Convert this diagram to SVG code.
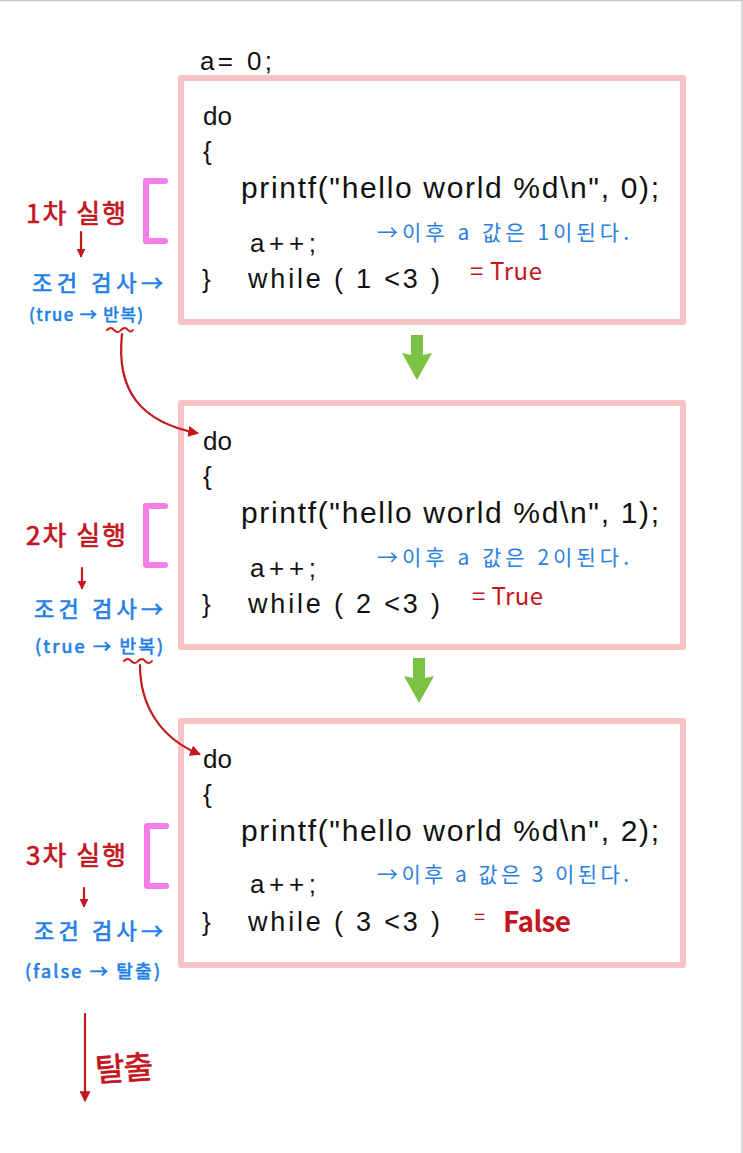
<svg xmlns="http://www.w3.org/2000/svg" width="743" height="1153" viewBox="0 0 743 1153">
<style>
.box{fill:none;stroke:#f9c3c6;stroke-width:6;stroke-linejoin:round}
.code{font-family:"Liberation Sans","Noto Sans CJK KR",sans-serif;fill:#111}
.note{font-family:"Noto Sans CJK KR",sans-serif;fill:#2a7fe0;font-size:21px}
.red{font-family:"Noto Sans CJK KR",sans-serif;fill:#c4161c}
.blue{font-family:"Noto Sans CJK KR",sans-serif;fill:#1f7fe6}
.lab{stroke-width:0.7px;stroke-linejoin:round}
.red.lab{stroke:#c4161c}
.blue.lab{stroke:#1f7fe6}
.brk{fill:none;stroke:#f47de8;stroke-width:6;stroke-linecap:round;stroke-linejoin:round}
.rl{fill:none;stroke:#c4161c;stroke-width:2.2;stroke-linecap:round}
.sq{fill:none;stroke:#d11a1a;stroke-width:2;stroke-linecap:round}
.green{fill:#7cc242}
</style>
<defs>
<marker id="ah" viewBox="0 0 10 10" refX="8" refY="5" markerWidth="5" markerHeight="5" orient="auto">
<path d="M0,0 L10,5 L0,10 z" fill="#c4161c"/>
</marker>
<marker id="ahs" viewBox="0 0 10 10" refX="8" refY="5" markerWidth="4" markerHeight="4" orient="auto">
<path d="M0,0 L10,5 L0,10 z" fill="#c4161c"/>
</marker>
<path id="garrow" d="M-6,0 L6,0 L6,20 L15,18 L0,45 L-15,18 L-6,20 z"/>
</defs>
<rect x="0" y="0" width="743" height="1153" fill="#ffffff"/>
<line x1="0" y1="0.5" x2="743" y2="0.5" stroke="#c8c8c8" stroke-width="1.5"/>
<line x1="742" y1="0" x2="742" y2="1153" stroke="#d0d0d0" stroke-width="1.5"/>

<text class="code" x="200" y="70" font-size="26" textLength="72">a= 0;</text>

<g id="box1">
<rect class="box" x="181" y="78" width="502" height="244"/>
<text class="code" x="203" y="125" font-size="26" textLength="29">do</text>
<text class="code" x="203" y="160" font-size="26">{</text>
<text class="code" x="241" y="198" font-size="30" textLength="418">printf("hello world %d\n", 0);</text>
<text class="code" x="250" y="252" font-size="26" textLength="66">a++;</text>
<text class="note" x="377" y="240" textLength="252">→이후 a 값은 1이된다.</text>
<text class="code" x="202" y="288" font-size="26">}</text>
<text class="code" x="248" y="288" font-size="27" textLength="192">while  ( 1 &lt;3 )</text>
<text class="red" x="470" y="280" font-size="24" textLength="72">= True</text>
</g>

<g id="label1">
<text class="red lab" x="26" y="223" font-size="26" textLength="100">1차 실행</text>
<path class="brk" d="M165,181 H146 V241 H165"/>
<line class="rl" x1="81" y1="232" x2="81" y2="256" marker-end="url(#ahs)"/>
<text class="blue lab" x="32" y="291" font-size="22" textLength="131">조건 검사→</text>
<text class="blue lab" x="29" y="321" font-size="17" textLength="114">(true → 반복)</text>
<path class="sq" d="M107,330 q4,-4 7,0 q4,4 7,0 q4,-4 7,0 q3,3 5,0"/>
</g>

<g id="box2">
<rect class="box" x="181" y="403" width="502" height="244"/>
<text class="code" x="203" y="450" font-size="26" textLength="29">do</text>
<text class="code" x="203" y="485" font-size="26">{</text>
<text class="code" x="241" y="523" font-size="30" textLength="418">printf("hello world %d\n", 1);</text>
<text class="code" x="250" y="577" font-size="26" textLength="66">a++;</text>
<text class="note" x="377" y="565" textLength="252">→이후 a 값은 2이된다.</text>
<text class="code" x="202" y="613" font-size="26">}</text>
<text class="code" x="248" y="613" font-size="27" textLength="192">while  ( 2 &lt;3 )</text>
<text class="red" x="472" y="605" font-size="24" textLength="71">= True</text>
</g>

<g id="label2">
<text class="red lab" x="26" y="545" font-size="26" textLength="100">2차 실행</text>
<path class="brk" d="M165,506 H146 V565 H165"/>
<line class="rl" x1="82" y1="568" x2="82" y2="588" marker-end="url(#ahs)"/>
<text class="blue lab" x="34" y="617" font-size="22" textLength="129">조건 검사→</text>
<text class="blue lab" x="35" y="653" font-size="18" textLength="128">(true → 반복)</text>
<path class="sq" d="M124,661 q4,-4 7,0 q4,4 7,0 q4,-4 7,0 q4,4 7,0"/>
</g>

<g id="box3">
<rect class="box" x="181" y="721" width="502" height="244"/>
<text class="code" x="203" y="768" font-size="26" textLength="29">do</text>
<text class="code" x="203" y="803" font-size="26">{</text>
<text class="code" x="241" y="841" font-size="30" textLength="418">printf("hello world %d\n", 2);</text>
<text class="code" x="250" y="893" font-size="26" textLength="66">a++;</text>
<text class="note" x="377" y="882" textLength="252">→이후 a 값은 3 이된다.</text>
<text class="code" x="202" y="931" font-size="26">}</text>
<text class="code" x="248" y="931" font-size="27" textLength="192">while  ( 3 &lt;3 )</text>
<text class="red" x="474" y="924" font-size="20">=</text>
<text class="red" x="503" y="932" font-size="28" font-weight="bold" textLength="68">False</text>
</g>

<g id="label3">
<text class="red lab" x="26" y="865" font-size="26" textLength="100">3차 실행</text>
<path class="brk" d="M166,826 H147 V886 H166"/>
<line class="rl" x1="84" y1="888" x2="84" y2="906" marker-end="url(#ahs)"/>
<text class="blue lab" x="34" y="939" font-size="22" textLength="129">조건 검사→</text>
<text class="blue lab" x="25" y="978" font-size="18" textLength="135">(false → 탈출)</text>
</g>

<g id="exit">
<line class="rl" x1="85" y1="1014" x2="85" y2="1100" marker-end="url(#ah)"/>
<text class="red lab" x="95" y="1080" font-size="32" transform="rotate(-4 120 1068)" textLength="58">탈출</text>
</g>

<g id="connectors">
<path class="rl" d="M122,334 C116,390 140,422 197,433" marker-end="url(#ah)"/>
<path class="rl" d="M140,665 C140,705 160,738 199,754" marker-end="url(#ah)"/>
<use href="#garrow" class="green" x="417" y="335"/>
<use href="#garrow" class="green" x="419" y="658"/>
</g>
</svg>
